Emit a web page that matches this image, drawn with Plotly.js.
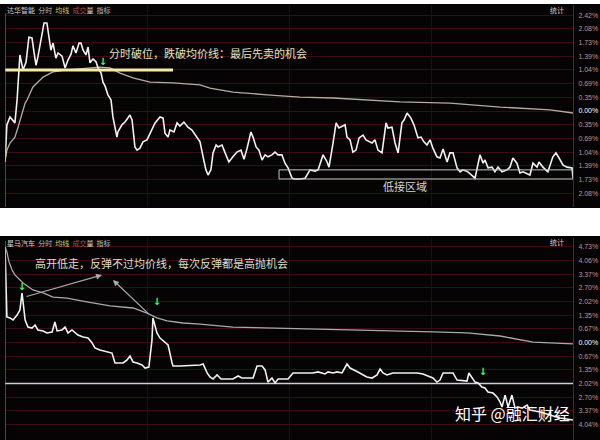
<!DOCTYPE html>
<html>
<head>
<meta charset="utf-8">
<script src="https://cdn.plot.ly/plotly-3.0.1.min.js"></script>
<style>html,body{margin:0;padding:0;background:#fff;}#chart{width:600px;height:440px;}</style>
</head>
<body>
<div id="chart"></div>
<script>
// ---------- Top panel (达华智能): minutes since open, % change ----------
const topTime = [0,0.8,2.1,3.4,4.2,5.1,6.3,7.6,8.9,10.1,11.4,12.3,13.1,13.9,15.2,16.5,17.7,18.6,19.4,20.3,21.5,22.4,24.1,25.4,26.6,27.9,28.7,30.0,31.3,32.1,33.0,34.2,35.1,35.9,37.2,38.5,39.3,40.6,41.4,42.3,43.5,44.8,45.6,47.3,47.7,49.4,50.7,52.8,53.7,54.9,55.8,57.0,58.3,60.0,61.3,63.4,65.5,66.8,67.6,68.9,69.7,71.4,72.7,73.9,75.6,77.3,79.0,81.1,82.4,83.7,84.9,85.8,87.0,87.9,89.2,90.0,91.7,93.0,94.6,96.3,98.0,99.7,101.0,102.3,103.9,104.8,106.1,107.3,108.6,109.9,111.1,112.8,114.1,115.4,117.0,118.3,119.6,121.3,122.5,124.6,126.8,128.9,131.0,132.3,134.4,136.1,136.9,138.6,139.9,141.1,142.4,143.7,144.5,145.8,147.0,148.3,149.6,151.3,152.5,153.8,155.1,156.3,157.6,159.3,161.0,161.8,163.5,164.8,166.1,167.7,168.6,169.9,171.5,172.8,174.5,175.8,177.0,178.3,179.6,180.8,182.5,183.8,185.1,186.8,188.0,189.3,191.0,192.3,193.5,195.6,197.7,198.6,200.7,202.0,202.8,204.1,205.8,207.0,208.3,210.0,212.1,213.4,214.6,216.3,217.6,218.9,221.8,223.1,224.8,225.6,227.3,229.4,231.5,232.8,234.1,235.8,237.5,239.6,240.0];
const topPrice = [-1.29,-0.35,-0.15,-0.25,-0.30,0.28,1.42,1.04,1.24,1.87,1.85,1.47,1.16,1.37,1.80,2.23,2.23,1.87,1.54,1.72,1.34,1.47,1.39,1.09,1.29,1.44,1.65,1.47,1.72,1.72,1.54,1.42,1.62,1.22,1.32,1.24,1.09,0.96,0.73,0.63,0.41,0.28,-0.15,-0.66,-0.53,-0.35,-0.28,-0.10,-0.23,-0.91,-0.99,-0.94,-0.78,-0.73,-0.56,-0.30,-0.15,-0.18,-0.56,-0.66,-0.48,-0.53,-0.30,-0.38,-0.28,-0.41,-0.48,-0.68,-0.78,-1.16,-1.49,-1.62,-1.49,-1.06,-0.86,-0.91,-0.86,-1.06,-1.29,-1.16,-1.04,-0.99,-1.22,-0.94,-0.53,-0.66,-0.91,-0.99,-1.24,-1.11,-1.16,-1.11,-1.04,-1.11,-1.11,-1.32,-1.44,-1.70,-1.72,-1.72,-1.70,-1.49,-1.52,-1.49,-1.11,-1.29,-1.42,-0.81,-0.30,-0.43,-0.38,-0.35,-0.66,-0.73,-1.04,-0.99,-0.68,-0.61,-0.73,-0.78,-0.81,-0.73,-0.99,-1.06,-0.30,-0.43,-0.41,-0.81,-1.06,-0.30,-0.23,-0.05,-0.18,-0.35,-0.68,-0.66,-0.78,-0.86,-0.73,-0.94,-1.16,-1.19,-0.96,-1.29,-1.06,-1.06,-1.44,-1.54,-1.49,-1.54,-1.67,-1.70,-1.11,-1.32,-1.24,-1.44,-1.42,-1.54,-1.42,-1.54,-1.49,-1.42,-1.19,-1.32,-1.57,-1.54,-1.62,-1.32,-1.42,-1.29,-1.42,-1.54,-1.16,-1.06,-1.19,-1.37,-1.42,-1.44,-1.70];
const topAvgTime = [0,0.8,2.1,4.2,5.5,7.2,8.5,9.3,11.8,16.1,20.3,26.2,34.6,40.1,44.4,48.6,54.1,61.3,71.0,82.4,86.6,96.3,110.7,124.6,138.6,166.9,188.0,209.2,230.3,240];
const topAvg = [-1.29,-0.99,-0.81,-0.66,-0.41,-0.05,0.20,0.28,0.61,0.86,0.99,1.04,1.09,1.11,1.09,0.96,0.84,0.73,0.71,0.66,0.58,0.48,0.41,0.35,0.33,0.23,0.20,0.10,0.03,-0.05];
const topBreakLevel = 1.04, topBreakEnd = 71;
const topZoneStart = 115.8, topZoneLow = -1.72, topZoneHigh = -1.49;
const topSignalTime = [41.4], topSignalPct = [1.24];
const topTickVals = [2.42,2.08,1.73,1.39,1.04,0.69,0.35,0,-0.35,-0.69,-1.04,-1.39,-1.73,-2.08];
const topTickText = ['2.42%','2.08%','1.73%','1.39%','1.04%','0.69%','0.35%','<span style="color:#ffffff">0.00%</span>','0.35%','0.69%','1.04%','1.39%','1.73%','2.08%'];

// ---------- Bottom panel (星马汽车) ----------
const botTime = [0,0.8,2.1,3.4,5.1,6.3,7.2,7.6,8.5,9.7,11.4,12.7,13.9,16.1,17.7,19.9,21.1,22.0,24.1,25.4,26.6,28.3,30.8,33.0,35.1,36.8,38.0,40.1,43.5,45.2,46.5,49.9,51.6,52.8,54.1,55.8,57.9,59.2,60.8,62.1,62.5,63.4,64.2,65.5,67.6,68.9,70.6,71.0,73.9,82.4,83.7,85.4,86.6,87.9,89.6,91.3,96.3,98.5,100.1,104.8,106.5,108.6,109.9,111.1,112.8,114.1,115.4,119.6,121.7,124.6,130.1,132.3,135.2,136.5,138.6,140.3,142.4,144.5,145.8,149.1,152.9,155.1,157.2,158.5,159.7,161.4,163.9,169.9,174.1,176.6,178.7,180.8,182.5,183.8,185.1,189.3,191.0,195.2,196.0,197.3,198.6,199.9,201.5,202.8,204.1,206.2,207.9,209.2,210.0,211.3,212.6,214.2,215.5,216.8,218.5,220.6,221.8,226.1,230.3,234.5,240.0];
const botPrice = [4.70,1.26,1.21,1.11,1.35,1.60,2.44,1.95,1.11,0.76,0.71,0.86,0.62,0.57,0.47,0.52,1.01,0.57,0.62,0.76,0.47,0.62,0.37,0.27,0.22,-0.02,-0.27,-0.37,-0.47,-0.52,-1.01,-1.01,-0.86,-0.67,-0.96,-1.01,-1.11,-1.26,-1.21,0.12,1.21,0.76,0.47,0.22,0.02,-0.12,-1.01,-1.16,-1.16,-1.11,-1.06,-1.50,-1.70,-1.80,-1.60,-1.80,-1.80,-1.65,-1.75,-1.75,-1.16,-1.16,-1.35,-1.95,-1.75,-1.99,-1.80,-1.80,-1.50,-1.50,-1.50,-1.45,-1.55,-1.45,-1.50,-1.45,-1.50,-1.06,-1.26,-1.45,-1.70,-1.75,-1.60,-1.31,-1.50,-1.60,-1.50,-1.50,-1.50,-1.55,-1.65,-1.75,-1.95,-1.85,-1.50,-1.50,-1.85,-1.90,-1.50,-1.70,-1.95,-1.99,-2.19,-2.24,-2.44,-2.49,-2.68,-2.93,-3.18,-2.59,-3.18,-2.59,-3.23,-3.18,-3.23,-3.08,-3.33,-3.42,-3.57,-3.72,-3.82];
const botAvgTime = [0,0.8,1.7,3.0,4.2,7.6,11.8,16.1,20.3,26.2,34.6,44.4,54.1,60.0,64.2,68.5,75.2,82.4,96.3,114.9,138.6,153.0,166.9,180.8,195.2,209.2,223.1,240];
const botAvg = [4.70,4.46,3.97,3.57,3.33,2.93,2.59,2.44,2.24,2.19,2.00,1.80,1.70,1.45,1.21,1.06,0.96,0.91,0.76,0.71,0.67,0.62,0.57,0.52,0.47,0.32,0.02,-0.07];
const botSupportLevel = -2.02;
const botSignalTime = [7.2,64.2,202.0], botSignalPct = [2.73,1.95,-1.50];
const botTickVals = [4.73,4.06,3.37,2.70,2.02,1.35,0.67,0,-0.67,-1.35,-2.02,-2.70,-3.37,-4.04];
const botTickText = ['4.73%','4.06%','3.37%','2.70%','2.02%','1.35%','0.67%','<span style="color:#ffffff">0.00%</span>','0.67%','1.35%','2.02%','2.70%','3.37%','4.04%'];

const CJK = '"Noto Sans CJK SC", sans-serif';
const gridRed = '#3a0c10';

const traces = [
  {x: topAvgTime, y: topAvg, xaxis:'x', yaxis:'y', mode:'lines', line:{color:'#b4aca2', width:1.3}, hoverinfo:'skip'},
  {x: topTime, y: topPrice, xaxis:'x', yaxis:'y', mode:'lines', line:{color:'#f2f2f2', width:1.6}, hoverinfo:'skip'},
  {x: [0, topBreakEnd], y: [topBreakLevel, topBreakLevel], xaxis:'x', yaxis:'y', mode:'lines', line:{color:'#f3eba6', width:3}, hoverinfo:'skip'},
  {x: topSignalTime, y: topSignalPct, xaxis:'x', yaxis:'y', mode:'text', text:topSignalTime.map(()=> '<b>↓</b>'), textfont:{color:'#3dff5c', size:10, family:'DejaVu Sans'}, hoverinfo:'skip'},
  {x: botAvgTime, y: botAvg, xaxis:'x2', yaxis:'y2', mode:'lines', line:{color:'#a9a9a9', width:1.3}, hoverinfo:'skip'},
  {x: [0,240], y: [botSupportLevel, botSupportLevel], xaxis:'x2', yaxis:'y2', mode:'lines', line:{color:'#cfcfcf', width:1.6}, hoverinfo:'skip'},
  {x: botTime, y: botPrice, xaxis:'x2', yaxis:'y2', mode:'lines', line:{color:'#f2f2f2', width:1.6}, hoverinfo:'skip'},
  {x: botSignalTime, y: botSignalPct, xaxis:'x2', yaxis:'y2', mode:'text', text:botSignalTime.map(()=> '<b>↓</b>'), textfont:{color:'#3dff5c', size:10, family:'DejaVu Sans'}, hoverinfo:'skip'}
];

function xAxis(anchor){
  return {domain:[5/600, 573/600], range:[0,240], anchor:anchor, tickvals:[60,120,180], showticklabels:false,
    showgrid:true, gridcolor:'#2a0a0d', gridwidth:1, zeroline:false, showline:false, ticks:'', fixedrange:true};
}
function yAxis(anchor, domain, range, vals, text){
  return {domain:domain, range:range, anchor:anchor, side:'right', tickvals:vals, ticktext:text,
    tickfont:{size:7, color:'#c99092', family:'"Liberation Sans", Arial, sans-serif'},
    showgrid:true, gridcolor:gridRed, gridwidth:1, zeroline:false, showline:true, linecolor:'#6b1a20', linewidth:1,
    ticks:'', ticklabelstandoff:3, fixedrange:true};
}

const header = (name) => '<span style="color:#cfcfcf">'+name+'</span>  <span style="color:#bdbdbd">分时</span>  <span style="color:#d9c463">均线</span>  <span style="color:#b04a4a">成交</span><span style="color:#dddddd">量</span>  <span style="color:#bdbdbd">指标</span>';

const layout = {
  width:600, height:440, margin:{l:0,r:0,t:0,b:0},
  paper_bgcolor:'#ffffff', plot_bgcolor:'rgba(0,0,0,0)', showlegend:false,
  xaxis: xAxis('y'),
  yaxis: yAxis('x', [(440-207)/440, (440-5)/440], [-2.430, 2.684], topTickVals, topTickText),
  xaxis2: xAxis('y2'),
  yaxis2: yAxis('x2', [0, (440-238)/440], [-4.803, 5.148], botTickVals, botTickText),
  shapes: [
    {type:'rect', xref:'paper', yref:'paper', x0:0, x1:1, y0:(440-208)/440, y1:(440-4)/440, fillcolor:'#050303', line:{width:0}, layer:'below'},
    {type:'rect', xref:'paper', yref:'paper', x0:0, x1:1, y0:0, y1:(440-236)/440, fillcolor:'#050303', line:{width:0}, layer:'below'},
    {type:'line', xref:'x', yref:'y domain', x0:0, x1:0, y0:0, y1:0.96, line:{color:'#8c8c8c', width:1}},
    {type:'line', xref:'x2', yref:'y2 domain', x0:0, x1:0, y0:0, y1:0.985, line:{color:'#8c8c8c', width:1}},
    {type:'rect', xref:'x', yref:'y', x0:topZoneStart, x1:240, y0:topZoneLow, y1:topZoneHigh, line:{color:'#c4c4c4', width:1}, fillcolor:'rgba(0,0,0,0)'}
  ],
  annotations: [
    {xref:'paper', yref:'paper', x:5/600, y:(440-9.5)/440, xanchor:'left', yanchor:'middle', showarrow:false, text:header('达华智能'), font:{family:CJK, size:7}},
    {xref:'paper', yref:'paper', x:557/600, y:(440-9.5)/440, xanchor:'center', yanchor:'middle', showarrow:false, text:'统计', font:{family:CJK, size:7, color:'#d0d0d0'}},
    {xref:'paper', yref:'paper', x:5/600, y:(440-242.5)/440, xanchor:'left', yanchor:'middle', showarrow:false, text:header('星马汽车'), font:{family:CJK, size:7}},
    {xref:'paper', yref:'paper', x:557/600, y:(440-242)/440, xanchor:'center', yanchor:'middle', showarrow:false, text:'统计', font:{family:CJK, size:7, color:'#d0d0d0'}},
    {xref:'x', yref:'y', x:43.1, y:1.47, xanchor:'left', yanchor:'middle', showarrow:false, text:'分时破位，跌破均价线：最后先卖的机会', font:{family:CJK, size:11, color:'#e4e0c2'}},
    {xref:'x', yref:'y', x:169.0, y:-1.90, xanchor:'center', yanchor:'middle', showarrow:false, text:'低接区域', font:{family:CJK, size:11, color:'#d6d6d6'}},
    {xref:'x2', yref:'y2', x:11.8, y:3.92, xanchor:'left', yanchor:'middle', showarrow:false, text:'高开低走，反弹不过均价线，每次反弹都是高抛机会', font:{family:CJK, size:11, color:'#dedcca'}},
    {xref:'x2', yref:'y2', x:41.0, y:3.33, ax:-77, ay:22, showarrow:true, arrowhead:2, arrowsize:1, arrowwidth:1.2, arrowcolor:'#a8a8b0', text:''},
    {xref:'x2', yref:'y2', x:45.6, y:3.08, ax:37, ay:35, showarrow:true, arrowhead:2, arrowsize:1, arrowwidth:1.2, arrowcolor:'#a8a8b0', text:''},
    {xref:'paper', yref:'paper', x:453/600, y:(440-413)/440, xanchor:'left', yanchor:'middle', showarrow:false, text:'知乎 @融汇财经', font:{family:CJK, size:16, color:'#ffffff'}}
  ]
};

Plotly.newPlot('chart', traces, layout, {displayModeBar:false, staticPlot:true});
</script>
</body>
</html>
